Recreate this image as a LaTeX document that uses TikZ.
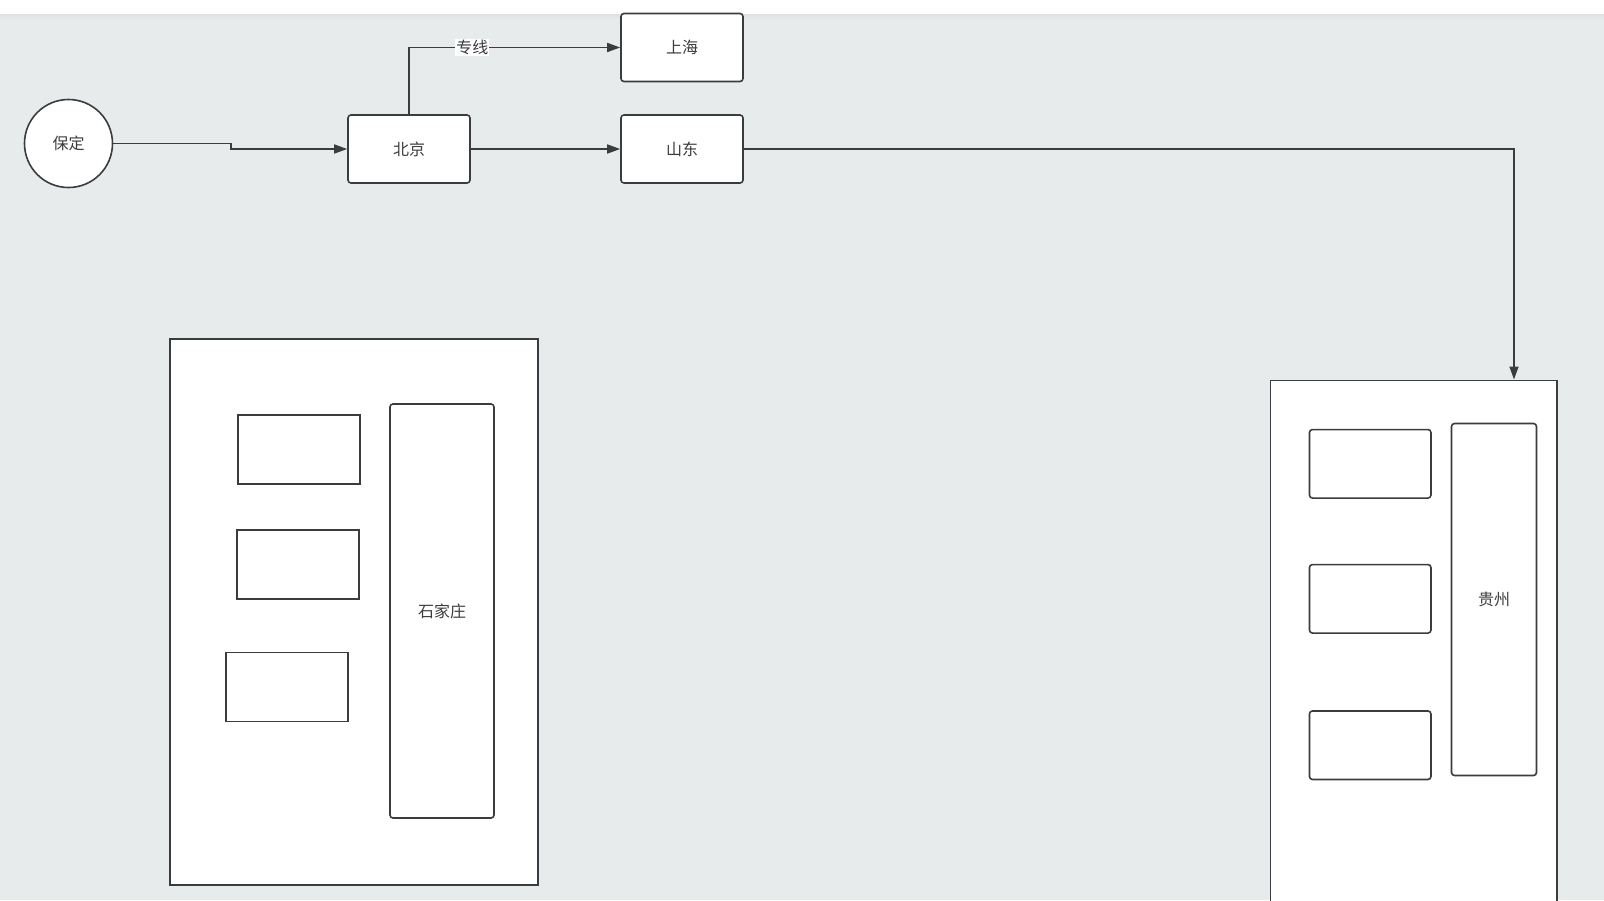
\documentclass[tikz,border=0pt]{standalone}
\usepackage{fontspec}
\newfontfamily\cjk{Noto Sans CJK SC}
\usetikzlibrary{arrows.meta,positioning,calc}
\definecolor{bgc}{HTML}{E8EBEC}
\definecolor{linec}{HTML}{3A3D40}
\definecolor{txtc}{HTML}{3C3C3C}
\tikzset{
  box/.style={draw=linec, fill=white, line width=1.6pt, rounded corners=3pt, inner sep=0pt, font=\cjk\fontsize{16}{19}\selectfont, text=txtc},
  sqbox/.style={draw=linec, fill=white, line width=1.6pt, inner sep=0pt},
  conn/.style={draw=linec, line width=1.6pt, -{Triangle[length=13pt,width=9pt]}},
  lbl/.style={fill=white, inner sep=1pt, font=\cjk\fontsize{16}{19}\selectfont, text=txtc}
}
\begin{document}
\begin{tikzpicture}[x=1pt,y=-1pt]
\clip (0,0) rectangle (1604,900);
\useasboundingbox (0,0) rectangle (1604,900);
\fill[white] (0,0) rectangle (1604,14);
\fill[bgc] (0,14) rectangle (1604,900);
\shade[top color=black!12, bottom color=bgc] (0,14) rectangle (1604,20);

% top row
\node[box, circle, minimum size=88pt] (bd) at (68.5,143.5) {保定};
\node[box, minimum width=122pt, minimum height=68pt] (bj) at (409,149) {北京};
\node[box, minimum width=122pt, minimum height=68pt] (sh) at (682,47.5) {上海};
\node[box, minimum width=122pt, minimum height=68pt] (sd) at (682,149) {山东};

% 石家庄 group
\node[sqbox, minimum width=368pt, minimum height=546pt] (sjzc) at (354,611.8) {};
\node[sqbox, minimum width=122pt, minimum height=69pt] (s1) at (299.2,449.5) {};
\node[sqbox, minimum width=122pt, minimum height=69pt] (s2) at (298,564.2) {};
\node[sqbox, minimum width=122pt, minimum height=69pt] (s3) at (287,686.8) {};
\node[box, minimum width=104pt, minimum height=414pt] (sjz) at (442,611) {石家庄};

% 贵州 group
\node[sqbox, minimum width=286.5pt, minimum height=560pt, anchor=north west] (gzc) at (1269.5,379.5) {};
\node[box, minimum width=121.5pt, minimum height=68.5pt] (g1) at (1370.2,463.8) {};
\node[box, minimum width=121.5pt, minimum height=68.5pt] (g2) at (1370.2,598.8) {};
\node[box, minimum width=121.5pt, minimum height=68.5pt] (g3) at (1370.2,745.2) {};
\node[box, minimum width=85pt, minimum height=352pt] (gz) at (1494,599.5) {贵州};

% connectors
\coordinate (k1) at (231,143.5);
\coordinate (k2) at (231,149);
\draw[conn] (bd.east) -- (k1) -- (k2) -- (bj.west);
\draw[conn] (bj.east) -- (sd.west);
\draw[conn] (bj.north) |- node[lbl, pos=0.65] {专线} (sh.west);
\coordinate (gzin) at (1514,379.5);
\draw[conn] (sd.east) -| (gzin);
\end{tikzpicture}
\end{document}
